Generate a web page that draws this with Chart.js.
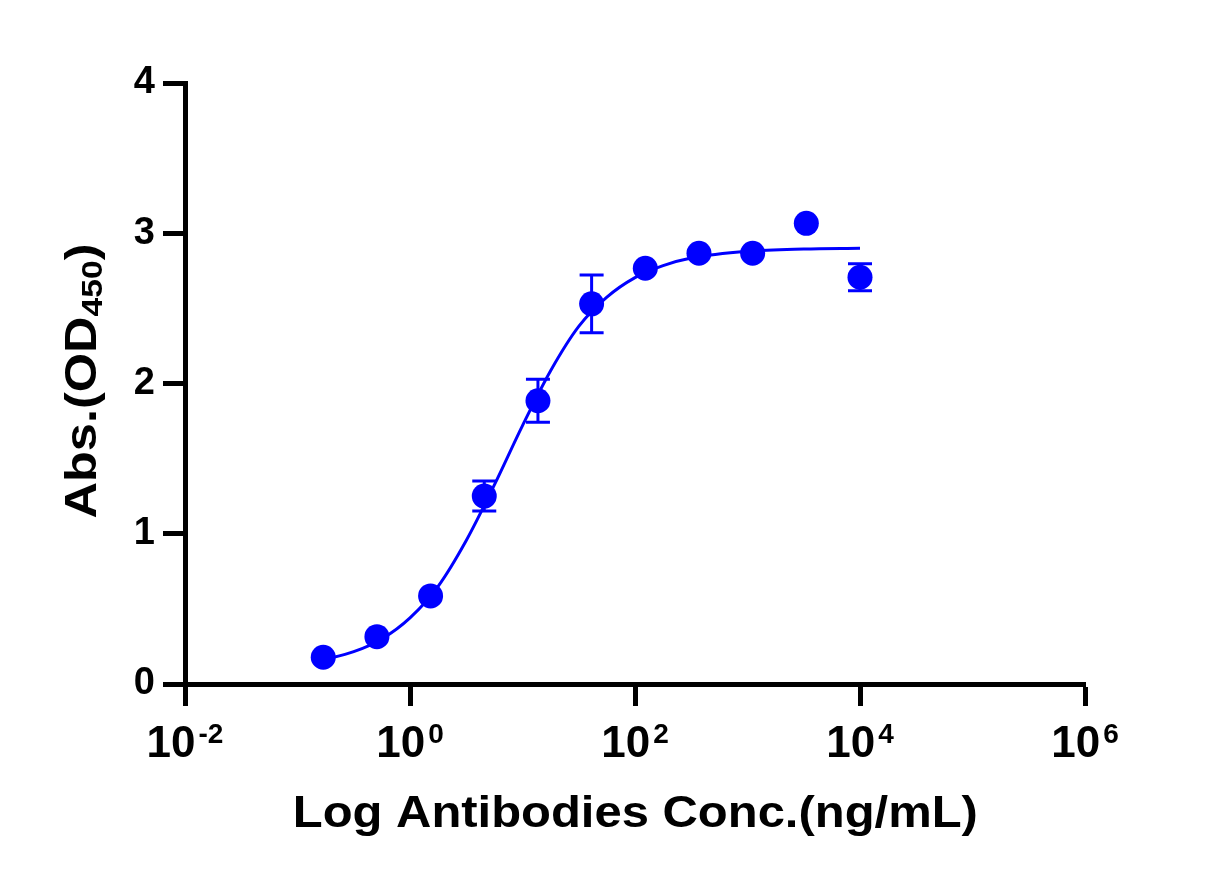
<!DOCTYPE html>
<html><head><meta charset="utf-8">
<script src="https://cdn.jsdelivr.net/npm/chart.js@4.4.1/dist/chart.umd.min.js"></script>
<style>html,body{margin:0;padding:0;background:#fff;overflow:hidden}</style>
</head><body>
<canvas id="c" width="1227" height="887"></canvas>
<script>
// Measured data (mean ± SD)
const concentrations = [0.1694, 0.5081, 1.524, 4.572, 13.72, 41.15, 123.5, 370.4, 1111, 3333, 10000];
const absorbance = [0.178, 0.315, 0.586, 1.251, 1.885, 2.530, 2.767, 2.867, 2.867, 3.066, 2.707];
const sd = [0, 0, 0, 0.10, 0.143, 0.192, 0, 0, 0, 0, 0.09];
// Fitted curve
const fitConc = [0.166, 0.316, 0.562, 1, 1.778, 3.162, 5.623, 10, 17.78, 31.62, 56.23, 100, 177.8, 316.2, 1000, 3162, 10000];
const fitAbs = [0.16, 0.215, 0.30, 0.44, 0.65, 0.955, 1.325, 1.72, 2.085, 2.38, 2.575, 2.705, 2.785, 2.835, 2.88, 2.895, 2.90];
// Axis ticks and texts
const xTickValues = [0.01, 1, 100, 10000, 1000000];
const xTickBase = '10';
const xTickExponents = ['-2', '0', '2', '4', '6'];
const yTickValues = [0, 1, 2, 3, 4];
const xTitle = 'Log Antibodies Conc.(ng/mL)';
const yTitleMain = 'Abs.(OD';
const yTitleSub = '450';
const yTitleEnd = ')';

const BLUE = '#0000ff';
const FONT = "'Liberation Sans', Arial, Helvetica, sans-serif";

const overlay = {
  id: 'overlay',
  afterDatasetsDraw(chart) {
    const ctx = chart.ctx, xs = chart.scales.x, ys = chart.scales.y;
    ctx.save();
    ctx.strokeStyle = BLUE; ctx.lineWidth = 3;
    concentrations.forEach((c, i) => {
      if (!sd[i]) return;
      const px = xs.getPixelForValue(c);
      const t = ys.getPixelForValue(absorbance[i] + sd[i]);
      const b = ys.getPixelForValue(absorbance[i] - sd[i]);
      ctx.beginPath();
      ctx.moveTo(px, t); ctx.lineTo(px, b);
      ctx.moveTo(px - 12, t); ctx.lineTo(px + 12, t);
      ctx.moveTo(px - 12, b); ctx.lineTo(px + 12, b);
      ctx.stroke();
    });
    ctx.restore();
  },
  afterDraw(chart) {
    const ctx = chart.ctx, xs = chart.scales.x;
    ctx.save();
    ctx.fillStyle = '#000';
    ctx.textBaseline = 'alphabetic';
    ctx.textAlign = 'left';
    // x tick labels with exponents
    xTickValues.forEach((v, i) => {
      const px = xs.getPixelForValue(v);
      ctx.font = 'bold 44px ' + FONT;
      const wb = ctx.measureText(xTickBase).width;
      ctx.font = 'bold 28px ' + FONT;
      const we = ctx.measureText(xTickExponents[i]).width;
      const gap = 3;
      const start = px - (wb + gap + we) / 2;
      ctx.font = 'bold 44px ' + FONT;
      ctx.fillText(xTickBase, start, 757);
      ctx.font = 'bold 28px ' + FONT;
      ctx.fillText(xTickExponents[i], start + wb + gap, 743);
    });
    // x title
    ctx.font = 'bold 44px ' + FONT;
    const m = ctx.measureText(xTitle);
    const inkW = m.actualBoundingBoxLeft + m.actualBoundingBoxRight;
    const sx = 681 / inkW;
    ctx.save();
    ctx.translate(295 + m.actualBoundingBoxLeft * sx, 827);
    ctx.scale(sx, 1);
    ctx.fillText(xTitle, 0, 0);
    ctx.restore();
    // y title (rotated) with subscript
    ctx.save();
    ctx.translate(96, 381);
    ctx.rotate(-Math.PI / 2);
    ctx.font = 'bold 45px ' + FONT;
    const w1 = ctx.measureText(yTitleMain).width;
    const w3 = ctx.measureText(yTitleEnd).width;
    ctx.font = 'bold 30px ' + FONT;
    const w2 = ctx.measureText(yTitleSub).width;
    const total = w1 + w2 + w3;
    const s = 275 / total;
    ctx.scale(s, 1);
    let x0 = -total / 2;
    ctx.font = 'bold 45px ' + FONT;
    ctx.fillText(yTitleMain, x0, 0);
    ctx.font = 'bold 30px ' + FONT;
    ctx.fillText(yTitleSub, x0 + w1, 6);
    ctx.font = 'bold 45px ' + FONT;
    ctx.fillText(yTitleEnd, x0 + w1 + w2, 0);
    ctx.restore();
    ctx.restore();
  }
};

new Chart(document.getElementById('c'), {
  data: {
    datasets: [
      {
        type: 'scatter',
        data: concentrations.map((c, i) => ({ x: c, y: absorbance[i] })),
        backgroundColor: BLUE, borderColor: BLUE,
        pointRadius: 12.5, pointHoverRadius: 12.5, pointBorderWidth: 0,
        showLine: false, order: 0
      },
      {
        type: 'line',
        data: fitConc.map((c, i) => ({ x: c, y: fitAbs[i] })),
        borderColor: BLUE, borderWidth: 3, pointRadius: 0,
        fill: false, cubicInterpolationMode: 'monotone', order: 1
      }
    ]
  },
  options: {
    responsive: false, animation: false, devicePixelRatio: 1,
    layout: { padding: { top: 83, right: 142, left: 0, bottom: 0 } },
    plugins: { legend: { display: false }, tooltip: { enabled: false } },
    scales: {
      x: {
        type: 'logarithmic', position: 'bottom', min: 0.01, max: 1000000,
        afterBuildTicks: (sc) => { sc.ticks = xTickValues.map(v => ({ value: v })); },
        afterFit: (sc) => { sc.height = 203; sc.paddingLeft = 0; sc.paddingRight = 0; },
        ticks: { display: false },
        grid: { drawOnChartArea: false, drawTicks: true, tickLength: 22, tickWidth: 5, tickColor: '#000' },
        border: { display: true, color: '#000', width: 5 }
      },
      y: {
        type: 'linear', position: 'left', min: 0, max: 4,
        afterBuildTicks: (sc) => { sc.ticks = yTickValues.map(v => ({ value: v })); },
        afterFit: (sc) => { sc.width = 185; sc.paddingTop = 0; sc.paddingBottom = 0; },
        ticks: { color: '#000', padding: 8, font: { family: FONT, size: 38, weight: 'bold' } },
        grid: { drawOnChartArea: false, drawTicks: true, tickLength: 22, tickWidth: 5, tickColor: '#000' },
        border: { display: true, color: '#000', width: 5 }
      }
    }
  },
  plugins: [overlay]
});
</script>
</body></html>
